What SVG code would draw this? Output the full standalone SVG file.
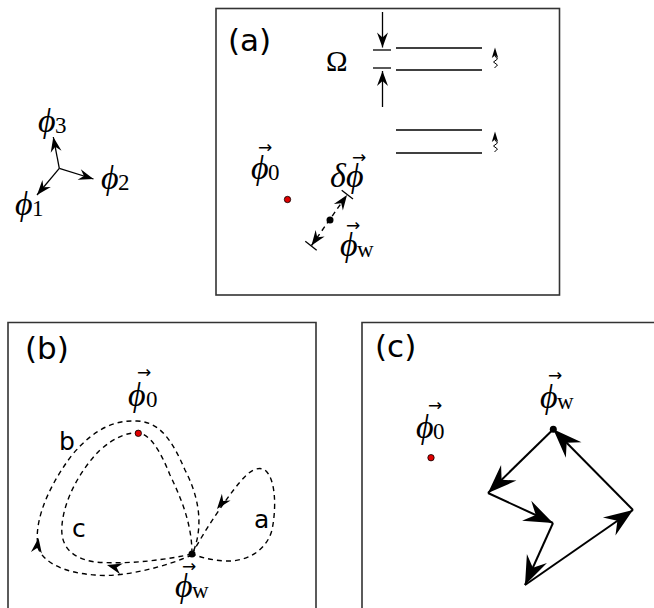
<svg xmlns="http://www.w3.org/2000/svg" xmlns:xlink="http://www.w3.org/1999/xlink" width="654" height="608" viewBox="0 0 654 608">
<style>
.frame{fill:none;stroke:#333;stroke-width:1.6}
.ln{fill:none;stroke:#000;stroke-width:1.3}
.lnc{fill:none;stroke:#000;stroke-width:2}
.dash{fill:none;stroke:#000;stroke-width:1.4;stroke-dasharray:5 4}
.panel{font-family:"DejaVu Sans",sans-serif;font-size:31px;fill:#000}
.lab{font-family:"DejaVu Sans",sans-serif;font-size:25px;fill:#000}
.phi{font-family:"Liberation Serif","DejaVu Serif",serif;font-style:italic;font-size:34px;fill:#000}
.sub{font-family:"Liberation Serif","DejaVu Serif",serif;font-size:23px;fill:#000}
.vec{font-family:"DejaVu Sans",sans-serif;font-size:17px;fill:#000}
.red{fill:#e00000;stroke:#000;stroke-width:0.8}
.blk{fill:#000}
</style>
<defs>
<marker id="ms" markerUnits="userSpaceOnUse" markerWidth="20" markerHeight="20" viewBox="-16 -8 20 16" refX="0" refY="0" orient="auto-start-reverse" overflow="visible">
<path d="M0,0 L-15,-5.5 L-10,0 L-15,5.5 Z" fill="#000" stroke="none"/>
</marker>
<marker id="ml" markerUnits="userSpaceOnUse" markerWidth="34" markerHeight="26" viewBox="-30 -12 34 24" refX="0" refY="0" orient="auto" overflow="visible">
<path d="M0,0 L-29,-11 L-19,0 L-29,11 Z" fill="#000" stroke="none"/>
</marker>
<path id="sh" d="M0,0 L-15,-5.5 L-10,0 L-15,5.5 Z" fill="#000"/>
</defs>

<!-- coordinate axes -->
<g id="axes">
<line class="ln" x1="59.3" y1="168.3" x2="53.3" y2="137" marker-end="url(#ms)"/>
<line class="ln" x1="59.3" y1="168.3" x2="93.5" y2="179" marker-end="url(#ms)"/>
<line class="ln" x1="59.3" y1="168.3" x2="37" y2="195" marker-end="url(#ms)"/>
<text class="phi" x="38" y="132">ϕ</text><text class="sub" x="55" y="133">3</text>
<text class="phi" x="101" y="189">ϕ</text><text class="sub" x="118" y="190">2</text>
<text class="phi" x="15" y="215">ϕ</text><text class="sub" x="32" y="216">1</text>
</g>

<!-- panel (a) -->
<g id="panel-a">
<rect class="frame" x="216" y="8.5" width="343.5" height="286.5"/>
<text class="panel" x="228" y="51">(a)</text>
<text x="326" y="71" style="font-family:'Liberation Serif',serif;font-size:29px">Ω</text>
<line class="ln" x1="382.5" y1="12" x2="382.5" y2="47.5" marker-end="url(#ms)"/>
<line class="ln" x1="382.5" y1="107" x2="382.5" y2="71" marker-end="url(#ms)"/>
<line class="ln" x1="373" y1="50" x2="391" y2="50"/>
<line class="ln" x1="373" y1="68" x2="391" y2="68"/>
<line class="ln" x1="396" y1="48" x2="482" y2="48"/>
<line class="ln" x1="396" y1="70" x2="482" y2="70"/>
<line class="ln" x1="396" y1="130" x2="482" y2="130"/>
<line class="ln" x1="396" y1="153" x2="482" y2="153"/>
<path d="M495,47.5 L491.8,58 L495,55.5 L498.2,58 Z" fill="#000"/>
<path class="ln" style="stroke-width:1" d="M495,56 l2.5,3 l-4,3 l4,3 l-3,3"/>
<path d="M495,131.5 L491.8,142 L495,139.5 L498.2,142 Z" fill="#000"/>
<path class="ln" style="stroke-width:1" d="M495,140 l2.5,3 l-4,3 l4,3 l-3,3"/>
<text class="vec" x="258" y="153">→</text>
<text class="phi" x="251" y="179">ϕ</text><text class="sub" x="268" y="180">0</text>
<circle class="red" cx="287.5" cy="199.5" r="3.2"/>
<text class="phi" x="330" y="187">δ</text>
<text class="vec" x="352" y="163">→</text>
<text class="phi" x="346" y="187">ϕ</text>
<line class="dash" x1="311.5" y1="245.5" x2="347" y2="195" marker-start="url(#ms)" marker-end="url(#ms)"/>
<line class="ln" x1="341.7" y1="190.3" x2="353" y2="199"/>
<line class="ln" x1="305.3" y1="241.3" x2="316.7" y2="250.3"/>
<circle class="blk" cx="330" cy="220" r="3.5"/>
<text class="vec" x="346" y="231">→</text>
<text class="phi" x="340" y="256">ϕ</text><text class="sub" x="357" y="257">w</text>
</g>

<!-- panel (b) -->
<g id="panel-b">
<path class="frame" d="M8,610 V322.5 H316 V610"/>
<text class="panel" x="25" y="359">(b)</text>
<path class="dash" d="M192,555 C170,565 125,578 95,575 C65,573 45,563 39,550 C33,530 42,495 72,455 C95,428 115,420 137,421 C160,422 172,440 185,470 C198,495 205,525 192,555"/>
<path class="dash" d="M192,554 C170,559 130,565 95,562 C70,558 60,545 62,525 C64,500 80,470 100,450 C115,437 128,432 138,433 C150,434 160,450 170,475 C182,500 192,525 192,554"/>
<path class="dash" d="M192,554 C205,530 225,500 240,482 C250,470 258,466 265,470 C275,478 277,505 272,530 C266,552 245,562 225,561 C210,560 200,557 192,554"/>
<use xlink:href="#sh" transform="translate(217,509) rotate(128)"/>
<use xlink:href="#sh" transform="translate(38.5,538) rotate(-82)"/>
<use xlink:href="#sh" transform="translate(107,565) rotate(195)"/>
<text class="vec" x="137" y="378">→</text>
<text class="phi" x="128" y="406">ϕ</text><text class="sub" x="146" y="407">0</text>
<circle class="red" cx="138.3" cy="433.3" r="3.2"/>
<circle class="blk" cx="192" cy="554" r="3.5"/>
<text class="lab" x="59" y="450">b</text>
<text class="lab" x="72" y="537">c</text>
<text class="lab" x="254" y="528">a</text>
<text class="vec" x="182" y="572">→</text>
<text class="phi" x="175" y="597">ϕ</text><text class="sub" x="192" y="598">w</text>
</g>

<!-- panel (c) -->
<g id="panel-c">
<path class="frame" d="M362,610 V322.5 H656"/>
<text class="panel" x="375" y="357">(c)</text>
<text class="vec" x="428" y="411">→</text>
<text class="phi" x="416" y="438">ϕ</text><text class="sub" x="433" y="439">0</text>
<circle class="red" cx="431" cy="457.7" r="3.2"/>
<text class="vec" x="548" y="381">→</text>
<text class="phi" x="540" y="408">ϕ</text><text class="sub" x="557" y="409">w</text>
<circle class="blk" cx="553.3" cy="429.3" r="3.5"/>
</g>

<g id="connectors">
<line class="lnc" x1="553.3" y1="429.3" x2="488" y2="493" marker-end="url(#ml)"/>
<line class="lnc" x1="488" y1="493" x2="553" y2="523" marker-end="url(#ml)"/>
<line class="lnc" x1="553" y1="523" x2="525" y2="585" marker-end="url(#ml)"/>
<line class="lnc" x1="525" y1="585" x2="633" y2="510" marker-end="url(#ml)"/>
<line class="lnc" x1="633" y1="510" x2="553.3" y2="429.3" marker-end="url(#ml)"/>
</g>
</svg>
